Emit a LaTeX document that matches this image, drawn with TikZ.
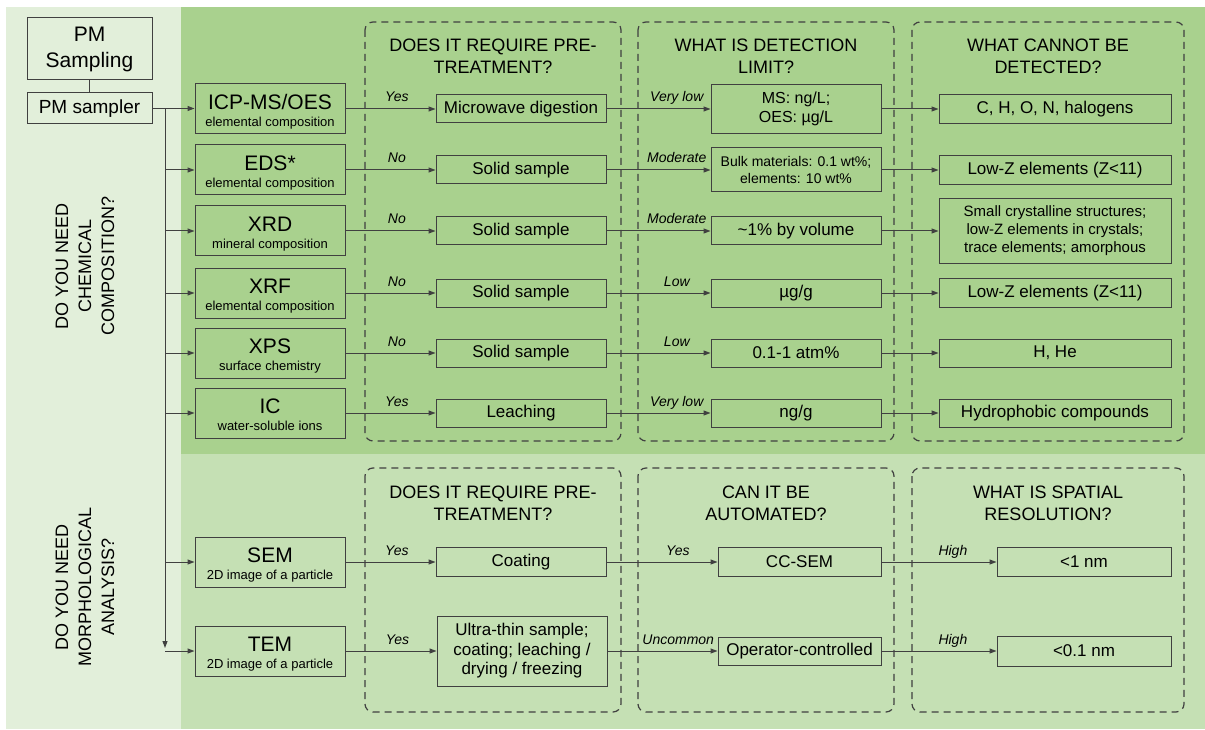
\documentclass[tikz,border=0pt]{standalone}
\usepackage{fontspec}
\setmainfont{Liberation Sans}
\setsansfont{Liberation Sans}
\usetikzlibrary{arrows.meta}
\definecolor{leftbg}{HTML}{E2EFDA}
\definecolor{topbg}{HTML}{A9D18E}
\definecolor{botbg}{HTML}{C5E0B4}
\definecolor{lc}{HTML}{404040}
\begin{document}
\begin{tikzpicture}[x=1pt,y=-1pt,
  bx/.style={draw=lc, line width=1pt, inner sep=0pt, align=center, text=black, font=\fontsize{17}{20}\selectfont},
  mbox/.style={draw=lc, line width=1pt, inner sep=0pt, minimum width=150, minimum height=50},
  mname/.style={anchor=base, inner sep=0pt, font=\fontsize{21}{24}\selectfont},
  msub/.style={anchor=base, inner sep=0pt, font=\fontsize{13}{15}\selectfont},
  ln/.style={draw=lc, line width=1pt},
  arr/.style={draw=lc, line width=1pt, -{Triangle[length=7pt,width=5pt]}},
  grp/.style={draw=lc, line width=1.2pt, dash pattern=on 7pt off 5pt, rounded corners=8pt},
  hd/.style={align=center, inner sep=0pt, font=\fontsize{18}{22}\selectfont},
  side/.style={align=center, inner sep=0pt, rotate=90, font=\fontsize{18}{23}\selectfont},
  lbl/.style={anchor=base, inner sep=0pt, yshift=7pt, font=\fontsize{14}{16}\selectfont\itshape}]
\useasboundingbox (0,0) rectangle (1205,730);
\fill[white] (0,0) rectangle (1205,730);
% backgrounds
\fill[leftbg] (6,7) rectangle (181,729);
\fill[topbg] (181,7) rectangle (1205,454);
\fill[botbg] (181,454) rectangle (1205,729);
% dashed groups
\draw[grp] (365,22) rectangle (621,441);
\draw[grp] (638,22) rectangle (894,441);
\draw[grp] (912,22) rectangle (1184,441);
\draw[grp] (365,468) rectangle (621,712);
\draw[grp] (638,468) rectangle (894,712);
\draw[grp] (912,468) rectangle (1184,712);
% headings
\node[hd] (h1) at (493,56) {DOES IT REQUIRE PRE-\\TREATMENT?};
\node[hd] (h2) at (766,56) {WHAT IS DETECTION\\LIMIT?};
\node[hd] (h3) at (1048,56) {WHAT CANNOT BE\\DETECTED?};
\node[hd] (h4) at (493,503) {DOES IT REQUIRE PRE-\\TREATMENT?};
\node[hd] (h5) at (766,503) {CAN IT BE\\AUTOMATED?};
\node[hd] (h6) at (1048,503) {WHAT IS SPATIAL\\RESOLUTION?};
% side labels
\node[side] (q1) at (85,266) {DO YOU NEED\\CHEMICAL\\COMPOSITION?};
\node[side] (q2) at (85,587) {DO YOU NEED\\MORPHOLOGICAL\\ANALYSIS?};
% PM sampling
\node[bx, minimum width=125, minimum height=62, font=\fontsize{21}{26}\selectfont] (pms) at (89.5,49) {PM\\Sampling};
\node[bx, minimum width=125, minimum height=31, font=\fontsize{19}{22}\selectfont] (sampler) at (89.5,108.5) {PM sampler};
\draw[ln] (pms.south) -- (sampler.north);
% methods
\node[mbox] (icp) at (270,109) {};
\node[mname] (icpN) at (270,109.5) {ICP-MS/OES};
\node[msub] (icpS) at (270,126.5) {elemental composition};
\node[mbox] (eds) at (270,170) {};
\node[mname] (edsN) at (270,170.5) {EDS*};
\node[msub] (edsS) at (270,187.5) {elemental composition};
\node[mbox] (xrd) at (270,231) {};
\node[mname] (xrdN) at (270,231.5) {XRD};
\node[msub] (xrdS) at (270,248.5) {mineral composition};
\node[mbox] (xrf) at (270,293) {};
\node[mname] (xrfN) at (270,293.5) {XRF};
\node[msub] (xrfS) at (270,310.5) {elemental composition};
\node[mbox] (xps) at (270,353) {};
\node[mname] (xpsN) at (270,353.5) {XPS};
\node[msub] (xpsS) at (270,370.5) {surface chemistry};
\node[mbox] (ic) at (270,413) {};
\node[mname] (icN) at (270,413.5) {IC};
\node[msub] (icS) at (270,430.5) {water-soluble ions};
\node[mbox] (sem) at (270,562) {};
\node[mname] (semN) at (270,562.5) {SEM};
\node[msub] (semS) at (270,579.5) {2D image of a particle};
\node[mbox] (tem) at (270,651) {};
\node[mname] (temN) at (270,651.5) {TEM};
\node[msub] (temS) at (270,668.5) {2D image of a particle};
% trunk
\coordinate (tk0) at (165,109);
\coordinate (tk8) at (165,648);
\draw[arr] (sampler.east) -- (sampler.east -| icp.west);
\draw[arr] (tk0) -- (tk8);
\foreach \m in {eds,xrd,xrf,xps,ic,sem,tem}
  \draw[arr] (\m.west -| tk0) -- (\m.west);
% pre-treatment column
\node[bx, minimum width=170, minimum height=28] (p1) at (521,109) {Microwave digestion};
\node[bx, minimum width=170, minimum height=28] (p2) at (521,170) {Solid sample};
\node[bx, minimum width=170, minimum height=28] (p3) at (521,231) {Solid sample};
\node[bx, minimum width=170, minimum height=28] (p4) at (521,293) {Solid sample};
\node[bx, minimum width=170, minimum height=28] (p5) at (521,353) {Solid sample};
\node[bx, minimum width=170, minimum height=28] (p6) at (521,413) {Leaching};
\node[bx, minimum width=170, minimum height=29] (p7) at (521,562) {Coating};
\node[bx, minimum width=170, minimum height=70, font=\fontsize{17}{19.5}\selectfont] (p8) at (522,651) {Ultra-thin sample;\\coating; leaching /\\drying / freezing};
% detection column
\node[bx, minimum width=170, minimum height=49, font=\fontsize{16}{19.5}\selectfont] (d1) at (796,109) {MS: ng/L;\\OES: µg/L};
\node[bx, minimum width=170, minimum height=44, font=\fontsize{14}{17}\selectfont] (d2) at (796,170) {Bulk materials: 0.1 wt\%;\\elements: 10 wt\%};
\node[bx, minimum width=170, minimum height=28] (d3) at (796,231) {\textasciitilde1\% by volume};
\node[bx, minimum width=170, minimum height=28] (d4) at (796,293) {µg/g};
\node[bx, minimum width=170, minimum height=28] (d5) at (796,353) {0.1-1 atm\%};
\node[bx, minimum width=170, minimum height=28] (d6) at (796,413) {ng/g};
\node[bx, minimum width=163, minimum height=29] (d7) at (799.5,562) {CC-SEM};
\node[bx, minimum width=163, minimum height=28] (d8) at (799.5,651) {Operator-controlled};
% cannot column
\node[bx, minimum width=232, minimum height=29] (c1) at (1055,109) {C, H, O, N, halogens};
\node[bx, minimum width=232, minimum height=29] (c2) at (1055,170) {Low-Z elements (Z<11)};
\node[bx, minimum width=232, minimum height=65, font=\fontsize{15}{18}\selectfont] (c3) at (1055,231) {Small crystalline structures;\\low-Z elements in crystals;\\trace elements; amorphous};
\node[bx, minimum width=232, minimum height=29] (c4) at (1055,293) {Low-Z elements (Z<11)};
\node[bx, minimum width=232, minimum height=28] (c5) at (1055,353) {H, He};
\node[bx, minimum width=232, minimum height=28] (c6) at (1055,413) {Hydrophobic compounds};
\node[bx, minimum width=174, minimum height=29] (c7) at (1084,562) {<1 nm};
\node[bx, minimum width=174, minimum height=30] (c8) at (1084,651) {<0.1 nm};
% arrows: methods -> pre-treatment
\draw[arr] (icp.east) -- node[lbl, pos=0.571] {Yes} (icp.east -| p1.west);
\draw[arr] (eds.east) -- node[lbl, pos=0.571] {No} (eds.east -| p2.west);
\draw[arr] (xrd.east) -- node[lbl, pos=0.571] {No} (xrd.east -| p3.west);
\draw[arr] (xrf.east) -- node[lbl, pos=0.571] {No} (xrf.east -| p4.west);
\draw[arr] (xps.east) -- node[lbl, pos=0.571] {No} (xps.east -| p5.west);
\draw[arr] (ic.east) -- node[lbl, pos=0.571] {Yes} (ic.east -| p6.west);
\draw[arr] (sem.east) -- node[lbl, pos=0.571] {Yes} (sem.east -| p7.west);
\draw[arr] (tem.east) -- node[lbl, pos=0.571] {Yes} (tem.east -| p8.west);
% pre-treatment -> detection
\draw[arr] (p1.east) -- node[lbl, pos=0.676] {Very low} (p1.east -| d1.west);
\draw[arr] (p2.east) -- node[lbl, pos=0.676] {Moderate} (p2.east -| d2.west);
\draw[arr] (p3.east) -- node[lbl, pos=0.676] {Moderate} (p3.east -| d3.west);
\draw[arr] (p4.east) -- node[lbl, pos=0.676] {Low} (p4.east -| d4.west);
\draw[arr] (p5.east) -- node[lbl, pos=0.676] {Low} (p5.east -| d5.west);
\draw[arr] (p6.east) -- node[lbl, pos=0.676] {Very low} (p6.east -| d6.west);
\draw[arr] (p7.east) -- node[lbl, pos=0.643] {Yes} (p7.east -| d7.west);
\draw[arr] (p8.east) -- node[lbl, pos=0.643] {Uncommon} (p8.east -| d8.west);
% detection -> cannot
\draw[arr] (d1.east) -- (d1.east -| c1.west);
\draw[arr] (d2.east) -- (d2.east -| c2.west);
\draw[arr] (d3.east) -- (d3.east -| c3.west);
\draw[arr] (d4.east) -- (d4.east -| c4.west);
\draw[arr] (d5.east) -- (d5.east -| c5.west);
\draw[arr] (d6.east) -- (d6.east -| c6.west);
\draw[arr] (d7.east) -- node[lbl, pos=0.621] {High} (d7.east -| c7.west);
\draw[arr] (d8.east) -- node[lbl, pos=0.621] {High} (d8.east -| c8.west);
\end{tikzpicture}
\end{document}
